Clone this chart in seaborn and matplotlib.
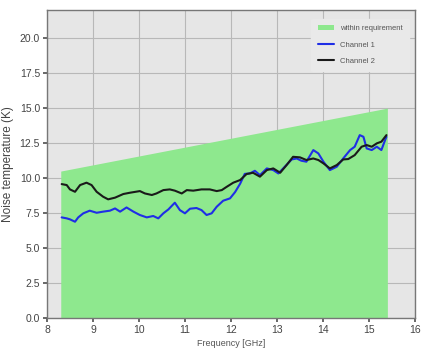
import matplotlib
matplotlib.use("Agg")
import matplotlib.pyplot as plt
import seaborn as sns
import pandas as pd
import numpy as np

# Requirement envelope (linear limit across the band)
req_freq = [8.3, 15.4]
req_temp = [10.5, 15.0]

# Measured noise temperature, channel 1
ch1_freq = [8.32, 8.43, 8.50, 8.61, 8.68, 8.79, 8.93, 9.08, 9.22, 9.37, 9.48, 9.59,
            9.73, 9.88, 10.02, 10.17, 10.31, 10.42, 10.53, 10.64, 10.78, 10.89, 11.00,
            11.11, 11.25, 11.36, 11.47, 11.58, 11.69, 11.83, 11.98, 12.09, 12.20, 12.30,
            12.41, 12.52, 12.63, 12.78, 12.92, 13.03, 13.17, 13.32, 13.43, 13.53, 13.64,
            13.79, 13.90, 14.01, 14.15, 14.30, 14.44, 14.59, 14.69, 14.80, 14.88, 14.95,
            15.06, 15.17, 15.27, 15.35, 15.38]
ch1_temp = [7.19, 7.12, 7.05, 6.88, 7.19, 7.48, 7.67, 7.52, 7.60, 7.67, 7.83, 7.60,
            7.90, 7.60, 7.36, 7.19, 7.29, 7.12, 7.48, 7.76, 8.24, 7.71, 7.48,
            7.81, 7.86, 7.71, 7.36, 7.48, 7.95, 8.38, 8.55, 9.00, 9.60, 10.30,
            10.33, 10.52, 10.21, 10.69, 10.57, 10.33, 10.81, 11.33, 11.40, 11.24, 11.17,
            12.00, 11.76, 11.17, 10.57, 10.81, 11.40, 12.00, 12.24, 13.07, 12.95, 12.12,
            12.00, 12.24, 12.00, 12.71, 12.95]

# Measured noise temperature, channel 2
ch2_freq = [8.32, 8.43, 8.50, 8.61, 8.72, 8.86, 8.97, 9.08, 9.22, 9.33, 9.48, 9.66,
            9.80, 10.02, 10.13, 10.28, 10.38, 10.53, 10.67, 10.78, 10.93, 11.04, 11.18,
            11.36, 11.54, 11.69, 11.80, 11.91, 12.05, 12.20, 12.34, 12.48, 12.63, 12.78,
            12.92, 13.07, 13.21, 13.35, 13.50, 13.64, 13.79, 13.90, 14.01, 14.15, 14.30,
            14.44, 14.55, 14.69, 14.84, 14.95, 15.06, 15.17, 15.27, 15.38]
ch2_temp = [9.57, 9.50, 9.19, 9.02, 9.50, 9.67, 9.50, 9.02, 8.67, 8.48, 8.60, 8.86,
            8.95, 9.07, 8.90, 8.79, 8.90, 9.14, 9.19, 9.10, 8.90, 9.14, 9.10,
            9.19, 9.19, 9.07, 9.14, 9.38, 9.67, 9.86, 10.29, 10.38, 10.10, 10.57,
            10.69, 10.38, 10.93, 11.52, 11.48, 11.29, 11.40, 11.29, 11.05, 10.69, 10.93,
            11.33, 11.36, 11.64, 12.24, 12.36, 12.24, 12.48, 12.60, 13.07]

x_ticks = [8, 9, 10, 11, 12, 13, 14, 15, 16]
y_ticks = [0.0, 2.5, 5.0, 7.5, 10.0, 12.5, 15.0, 17.5, 20.0]

sns.set_theme(style="whitegrid")
plt.rcParams["font.family"] = ["Liberation Sans", "DejaVu Sans"]

df = pd.concat([
    pd.DataFrame({"Frequency": ch1_freq, "T": ch1_temp, "Channel": "Channel 1"}),
    pd.DataFrame({"Frequency": ch2_freq, "T": ch2_temp, "Channel": "Channel 2"}),
])

fig = plt.figure(figsize=(4.23, 3.63), dpi=100)
ax = fig.add_axes([0.111, 0.124, 0.870, 0.848])
ax.set_facecolor("#e6e6e6")

ax.fill_between(req_freq, [0, 0], req_temp, color="#8ee88e", linewidth=0,
                label="within requirement", zorder=2)
sns.lineplot(data=df, x="Frequency", y="T", hue="Channel",
             palette={"Channel 1": "#1f2ee6", "Channel 2": "#1a1a1a"},
             linewidth=1.5, ax=ax, zorder=3, sort=False, estimator=None)

ax.set_xlim(8, 16)
ax.set_ylim(0, 22)
ax.set_xticks(x_ticks)
ax.set_xticklabels([str(t) for t in x_ticks])
ax.set_yticks(y_ticks)
ax.set_yticklabels([f"{t:.1f}" for t in y_ticks])
ax.grid(True, color="#b8b8b8", linewidth=0.8, zorder=1)
ax.set_axisbelow(True)
ax.tick_params(axis="both", labelsize=7.5, colors="#555555", length=3,
               direction="out", bottom=True, left=True, pad=2)
ax.tick_params(axis="both", labelcolor="#444444")
for s in ax.spines.values():
    s.set_color("#777777")
    s.set_linewidth(1.0)

ax.set_xlabel("Frequency [GHz]", fontsize=6.5, color="#555555", labelpad=3)
ax.set_ylabel("Noise temperature (K)", fontsize=8.5, color="#444444", labelpad=4)

handles, labels = ax.get_legend_handles_labels()
leg = ax.legend(handles, labels, loc="upper right", fontsize=5.5, frameon=True,
                facecolor="#e9e9e9", edgecolor="#e9e9e9", framealpha=1.0,
                handlelength=2.2, borderpad=0.8, labelspacing=1.2,
                bbox_to_anchor=(0.995, 0.985))
for t in leg.get_texts():
    t.set_color("#555555")

fig.savefig("out.png", dpi=100)
